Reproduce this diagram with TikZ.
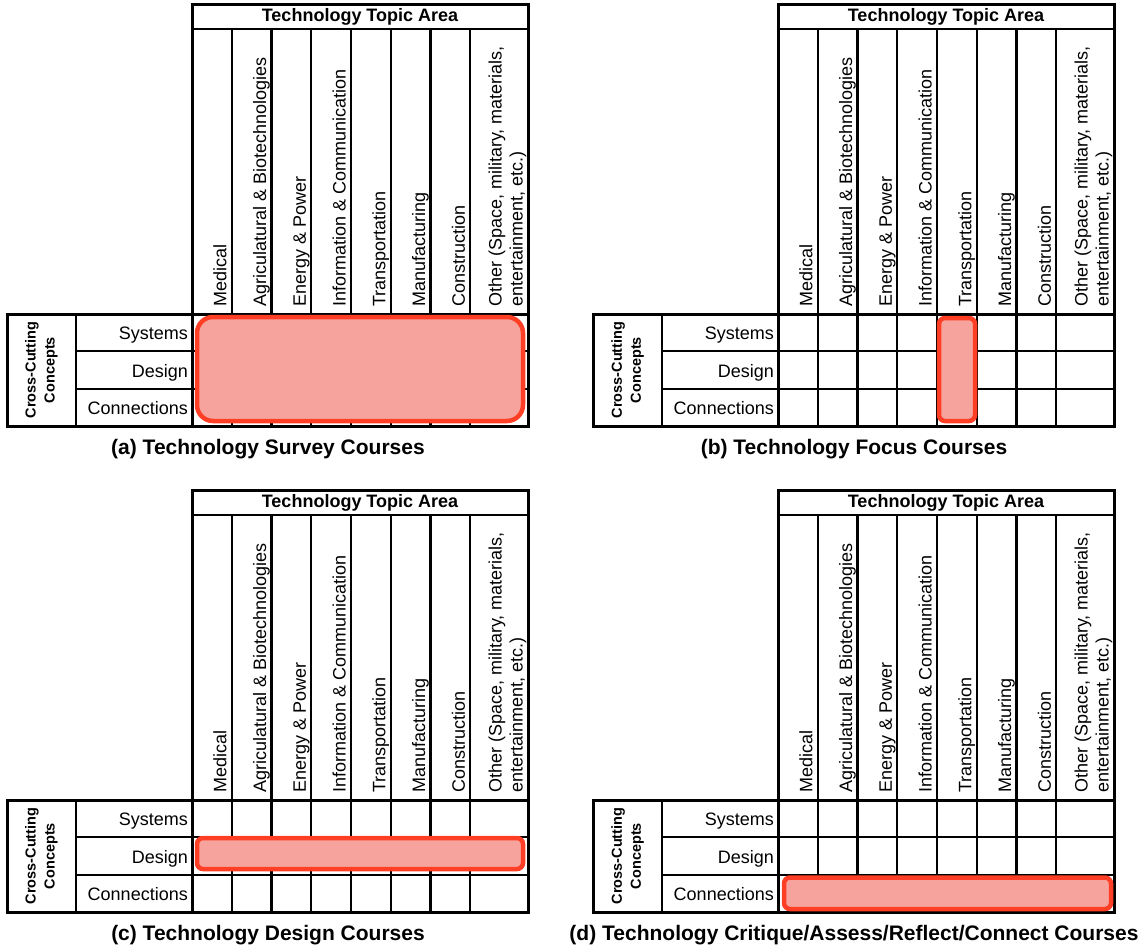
\documentclass[tikz,border=0pt]{standalone}
\usepackage{fontspec}
\setmainfont{Liberation Sans}
\definecolor{hl}{RGB}{255,62,38}
\definecolor{hlfill}{RGB}{245,163,156}
\tikzset{
  gridline/.style={line width=2.2pt, line cap=rect},
  frame/.style={line width=3pt, line join=miter},
  hlbox/.style={draw=hl, line width=4.5pt, fill=hlfill},
  colhead/.style={rotate=90, anchor=south west, inner sep=0pt, align=left,
    font=\fontsize{18}{21}\selectfont},
  ttl/.style={inner sep=0pt, font=\fontsize{18}{21}\selectfont\bfseries},
  rowlab/.style={inner sep=0pt, anchor=base east, font=\fontsize{18}{21}\selectfont},
  cc/.style={rotate=90, inner sep=0pt, align=center, font=\fontsize{14.5}{19}\selectfont\bfseries},
  captext/.style={inner sep=0pt, anchor=base, font=\fontsize{21}{24}\selectfont\bfseries}
}
\newcommand\tpanel[5]{%
\begin{scope}[shift={(#1,#2)}]
  \foreach \k in {1,...,7} \draw[gridline] ({192+39.75*\k},29) -- ({192+39.75*\k},426);
  \draw[gridline] (192,29) -- (528,29);
  \foreach \r in {1,2} \draw[gridline] (76,{314+37.33*\r}) -- (528,{314+37.33*\r});
  \draw[gridline] (76,314) -- (76,426);
  \draw[gridline] (192,314) -- (192,426);
  \draw[frame] (192,4) rectangle (528,426);
  \draw[frame] (7,314) rectangle (528,426);
  #5
  \node[ttl] (#3title) at (360,16.5) {Technology Topic Area};
  \foreach \lab [count=\k] in {Medical,Agriculatural \& Biotechnologies,Energy \& Power,Information \& Communication,Transportation,Manufacturing,Construction}
    \node[colhead, text depth=3.8pt] (#3col\k) at ({192+39.75*\k-1.5},307) {\lab};
  \node[colhead] (#3col8) at (526.5,307) {Other (Space, military, materials,\\entertainment, etc.)};
  \node[rowlab] (#3sys) at (188,339.5) {Systems};
  \node[rowlab] (#3des) at (188,377) {Design};
  \node[rowlab] (#3con) at (188,414) {Connections};
  \node[cc] (#3cc) at (41.5,370) {Cross-Cutting\\Concepts};
  \node[captext] (#3cap) at (268,454) {#4};
\end{scope}}
\begin{document}
\begin{tikzpicture}[x=1pt,y=-1pt]
\useasboundingbox (0,0) rectangle (1146,951);
\tpanel{0}{0}{a}{(a) Technology Survey Courses}{\draw[hlbox, rounded corners=16pt] (197,317) rectangle (523,421);}
\tpanel{586}{0}{b}{(b) Technology Focus Courses}{\draw[hlbox, rounded corners=6pt] (353,318) rectangle (389,421);}
\tpanel{0}{486}{c}{(c) Technology Design Courses}{\draw[hlbox, rounded corners=6pt] (197,352) rectangle (523,383);}
\tpanel{586}{486}{d}{(d) Technology Critique/Assess/Reflect/Connect Courses}{\draw[hlbox, rounded corners=6pt] (198,391.5) rectangle (525,423);}
\end{tikzpicture}
\end{document}
